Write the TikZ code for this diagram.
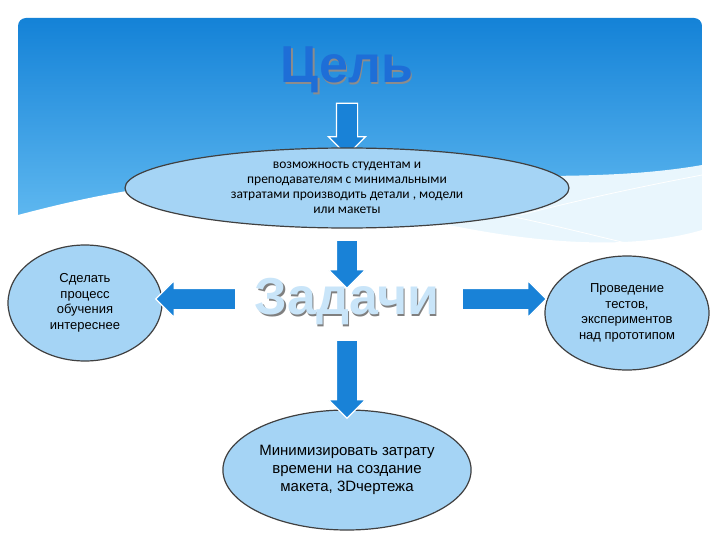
\documentclass[tikz,border=0pt]{standalone}
\usepackage{fontspec}
\setmainfont{Liberation Sans}
\newfontfamily\carlfont{Carlito}
\usetikzlibrary{shapes.geometric,shapes.arrows}
\definecolor{skyA}{RGB}{20,130,215}
\definecolor{skyB}{RGB}{110,195,245}
\definecolor{ell}{RGB}{165,212,245}
\definecolor{arr}{RGB}{25,130,215}
\definecolor{ttl}{RGB}{30,110,215}
\tikzset{
 bub/.style={ellipse,draw=black!75,line width=1.2pt,fill=ell,align=center,inner sep=0pt},
 barrow/.style={single arrow,fill=arr,draw=white,line width=1.2pt,single arrow head extend=8pt,minimum height=#1,inner sep=0pt,outer sep=0pt},
 bigttl/.style={font=\bfseries\fontsize{52}{52}\selectfont},
}
\newcommand{\shaft}{\rule{0pt}{20pt}}
\begin{document}
\begin{tikzpicture}[x=1pt,y=-1pt]
\useasboundingbox (0,0) rectangle (720,540);
\fill[white] (0,0) rectangle (720,540);
% sky
\begin{scope}
\clip[rounded corners=8pt] (18,18) rectangle (702,260);
\shade[top color=skyA,bottom color=skyB] (18,18) rectangle (702,260);
\fill[white!85!skyB] (230,190) .. controls (380,160) and (560,190) .. (702,165) -- (702,270) -- (230,270) -- cycle;
\fill[white] (18,215) .. controls (150,180) and (250,170) .. (350,200) .. controls (450,230) and (600,260) .. (702,230) -- (702,270) -- (18,270) -- cycle;
\draw[white,line width=0.8pt] (330,190) .. controls (480,200) and (600,240) .. (702,260);
\draw[white,line width=0.8pt] (520,215) .. controls (600,195) and (650,185) .. (702,175);
\end{scope}
\fill[white] (0,250) rectangle (720,540);
% title
\node[bigttl,text=black!45] (celsh) at (348.5,71.5) {Цель};
\node[bigttl,text=ttl] (cel) at (347,70) {Цель};
\node[barrow=52pt,rotate=-90] (a1) at (347,124) {\shaft};
\node[bub,minimum width=444pt,minimum height=80pt,font=\carlfont\fontsize{13.5}{15}\selectfont] (goal) at (347,188)
 {возможность студентам и\\преподавателям с минимальными\\затратами производить детали , модели\\или макеты};
\node[barrow=48pt,rotate=-90] (a2) at (347,259) {\shaft};
\node[bigttl,text=black!50] (zadsh) at (348.5,303.5) {Задачи};
\node[bigttl,text=ell!60!white] (zad) at (347,302) {Задачи};
\node[bub,minimum width=154pt,minimum height=116pt,font=\fontsize{13}{15.5}\selectfont] (left) at (85,303)
 {Сделать\\процесс\\обучения\\интереснее};
\node[bub,minimum width=164pt,minimum height=114pt,font=\fontsize{13}{15.5}\selectfont] (right) at (627,313)
 {Проведение\\тестов,\\экспериментов\\над прототипом};
\node[bub,minimum width=208pt,minimum height=120pt,font=\fontsize{15}{18}\selectfont] (bot) at (347,470)
 {Минимизировать затрату\\времени на создание\\макета, 3Dчертежа};
\node[barrow=80pt,rotate=180] (a3) at (201,299) {\shaft};
\node[barrow=84pt] (a4) at (499,299) {\shaft};
\node[barrow=78pt,rotate=-90] (a5) at (347,374) {\shaft};
\end{tikzpicture}
\end{document}
